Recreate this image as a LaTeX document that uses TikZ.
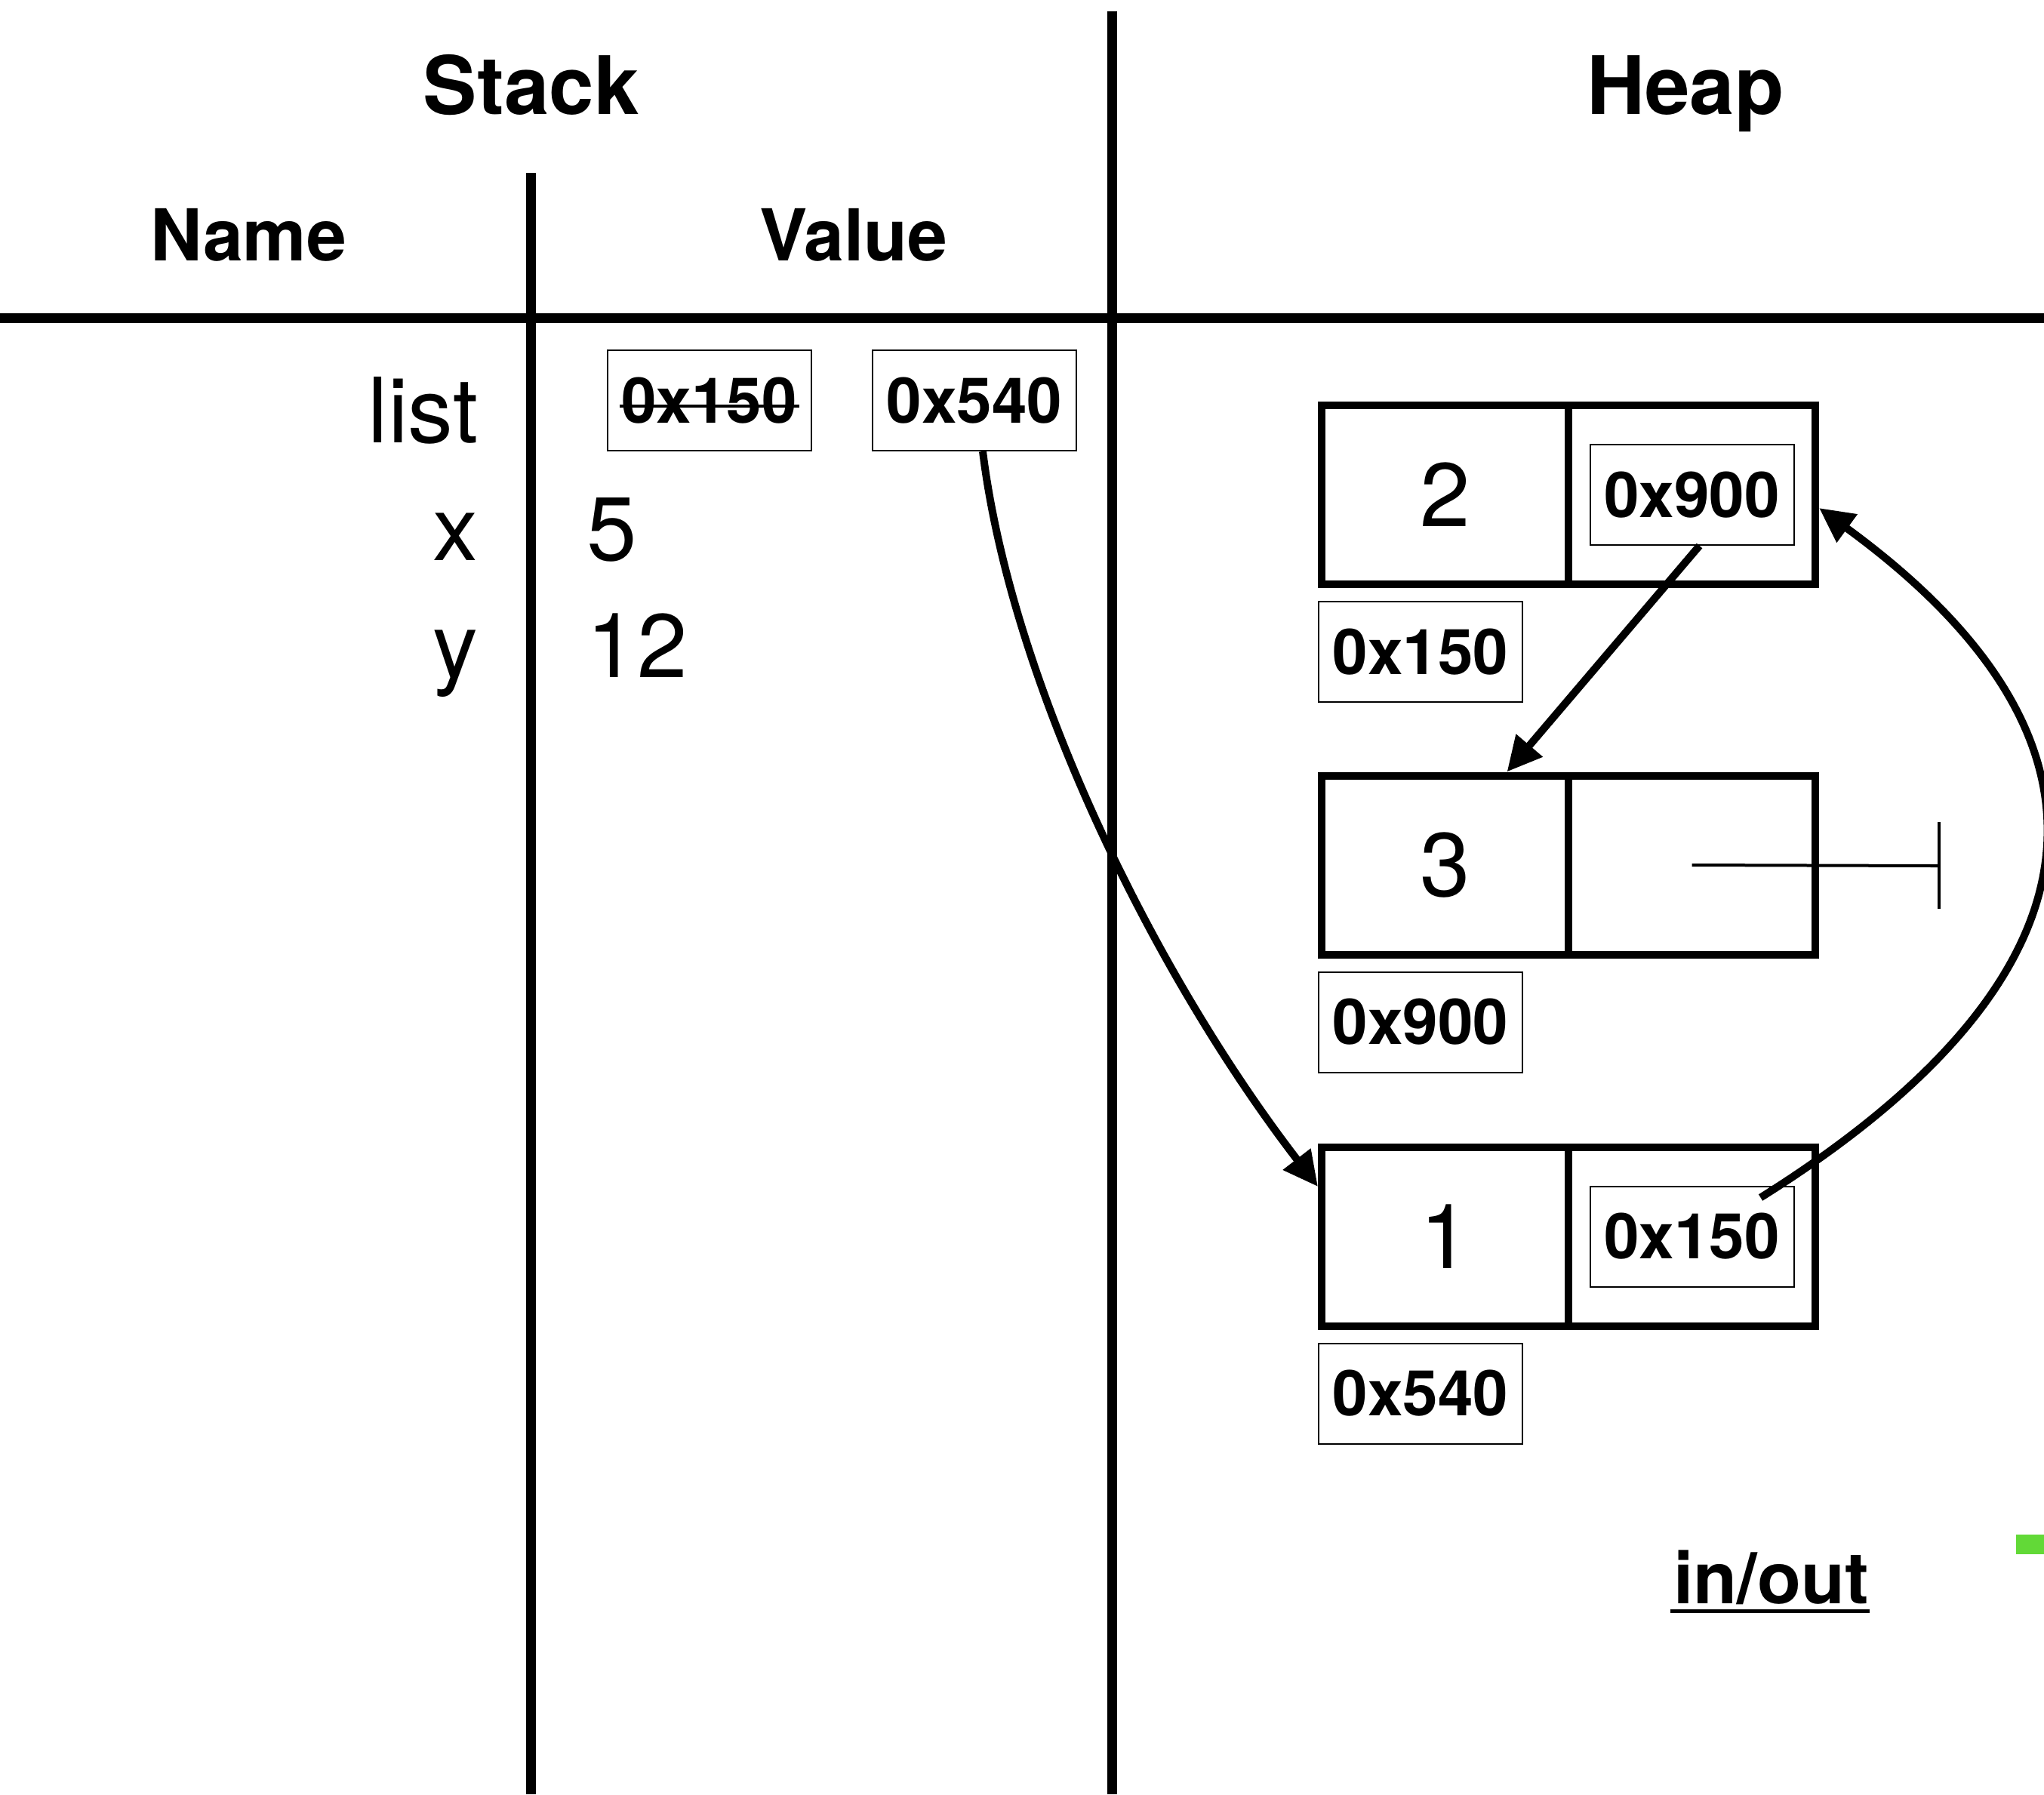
\documentclass[tikz,border=0pt]{standalone}
\usepackage{fontspec}
\setmainfont{TeX Gyre Heros}
\usepackage{tikz}
\usetikzlibrary{positioning,calc,arrows.meta}

\definecolor{keygreen}{RGB}{98,217,55}

\newcommand\headfont{\bfseries\fontsize{30.4pt}{36pt}\selectfont}
\newcommand\colfont{\bfseries\fontsize{27pt}{32pt}\selectfont}
\newcommand\valfont{\fontsize{34pt}{40pt}\selectfont}
\newcommand\addrfont{\bfseries\fontsize{23.8pt}{28pt}\selectfont}

\tikzset{
    frame/.style={line width=0.13cm},
    heading/.style={font=\headfont, anchor=base},
    colhead/.style={font=\colfont, anchor=base},
    plainval/.style={font=\valfont, inner sep=0},
    heapcell/.style={draw, line width=0.1cm, minimum width=3.27cm, minimum height=2.37cm, inner sep=0, font=\valfont},
    addr/.style={draw, line width=0.02cm, minimum width=2.7cm, minimum height=1.33cm, inner sep=0, font=\addrfont},
    ptr/.style={line width=0.1cm, -{Triangle[length=0.46cm,width=0.44cm]}},
    nullbar/.style={line width=0.04cm}
}

\begin{document}
\begin{tikzpicture}
    \useasboundingbox (0,0) rectangle (27.08,-23.77);

    % table frame
    \draw[frame] (0,-4.21) -- (27.08,-4.21);
    \draw[frame] (14.73,-0.15) -- (14.73,-23.77);
    \draw[frame] (7.03,-2.29) -- (7.03,-23.77);

    \node[heading] (stack) at (7.04,-1.51) {Stack};
    \node[heading] (heap) at (22.33,-1.51) {Heap};
    \node[colhead] (name) at (3.29,-3.45) {Name};
    \node[colhead] (value) at (11.31,-3.45) {Value};

    % stack variables
    \node[plainval, anchor=base east] (vlist) at (6.34,-5.86) {list};
    \node[plainval, anchor=base east] (vx) at (6.34,-7.42) {x};
    \node[plainval, anchor=base east] (vy) at (6.34,-8.97) {y};
    \node[plainval, anchor=base west] (valx) at (7.77,-7.42) {5};
    \node[plainval, anchor=base west] (valy) at (7.77,-8.97) {12};

    \node[addr] (sold) at (9.395,-5.305) {0x150};
    \node[addr] (snew) at (12.91,-5.305) {0x540};
    \draw[line width=0.045cm] ($(sold.west)+(0.17,-0.075)$) -- ($(sold.east)+(-0.17,-0.075)$);

    % heap nodes with their addresses
    \foreach \v/\y/\a in {2/-6.555/0x150, 3/-11.46/0x900, 1/-16.38/0x540} {
        \node[heapcell] (val\v) at (19.145,\y) {\v};
        \node[heapcell] (nxt\v) at (22.415,\y) {};
        \node[addr, below=0.17cm of val\v.south west, anchor=north west] (adr\v) {\a};
    }
    \node[addr] (ptr2) at (nxt2) {0x900};
    \node[addr] (ptr1) at (nxt1) {0x150};

    % null pointer
    \coordinate (null3) at (25.69,-11.47);
    \draw[nullbar] (nxt3.center) -- (null3);
    \draw[nullbar] ($(null3)+(0,0.58)$) -- ($(null3)+(0,-0.57)$);

    % pointers
    \draw[ptr] ($(snew.south)+(0.11,0)$) .. controls +(0.38,-3.07) and +(-2.17,2.82) .. ($(val1.west)+(0,0.66)$);
    \draw[ptr] ($(ptr2.south)+(0.1,0)$) -- ($(val3.north)+(0.82,0)$);
    \draw[ptr] ($(ptr1.north east)+(-0.45,-0.16)$) .. controls +(4.55,2.85) and +(4.35,-3.17) .. ($(nxt2.east)+(0,-0.175)$);

    \node[colhead, inner sep=0] (io) at (23.465,-21.24) {in/out};
    \draw[line width=0.05cm] ($(io.base west)+(-0.04,-0.1)$) -- ($(io.base east)+(0.01,-0.1)$);
    \fill[keygreen] (26.71,-20.33) rectangle (27.08,-20.59);
\end{tikzpicture}
\end{document}
